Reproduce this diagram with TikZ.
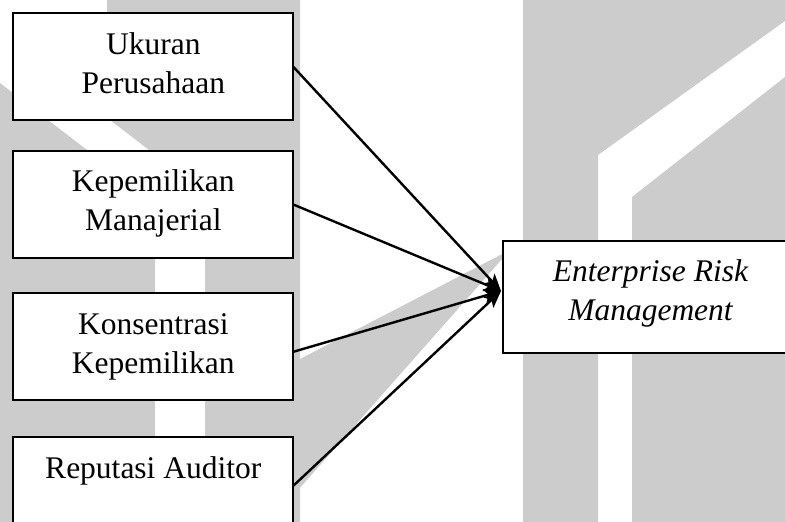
\documentclass[tikz,border=0pt]{standalone}
\usepackage{fontspec}
\setmainfont{Liberation Serif}
\usetikzlibrary{arrows.meta,calc}
\definecolor{wmgray}{RGB}{204,204,204}
\tikzset{
  box/.style={draw=black, line width=2.2pt, fill=white, minimum width=280pt,
    minimum height=107pt, inner sep=0pt, outer sep=0pt, anchor=north west},
  caption/.style={anchor=north, align=center, inner sep=0pt,
    font=\fontsize{31.5}{39}\selectfont},
  link/.style={line width=2.4pt, -{Stealth[length=17pt,width=14pt,inset=4pt]}},
  wm/.style={fill=wmgray, draw=none}
}
\begin{document}
\begin{tikzpicture}[x=1pt,y=-1pt]
\useasboundingbox (0,0) rectangle (785,522);
\clip (0,0) rectangle (785,522);

% background logo shapes
\fill[wm] (0,83) -- (155,202.4) -- (155,522) -- (0,522) -- cycle;
\fill[wm] (107,0) -- (300,0) -- (300,522) -- (205,522) -- (205,193) -- (107,117.7) -- cycle;
\fill[wm] (298,360) -- (510,250) -- (298,490) -- cycle;
\fill[wm] (523,0) -- (785,0) -- (785,21) -- (598,155) -- (598,522) -- (523,522) -- cycle;
\fill[wm] (632,197) -- (785,77) -- (785,522) -- (632,522) -- cycle;

% variable boxes
\node[box] (b1) at (13.3,13.3) {};
\node[box] (b2) at (13.3,151) {};
\node[box] (b3) at (13.3,293.3) {};
\node[box] (b4) at (13.3,437.3) {};
\node[box, minimum width=296pt, minimum height=112pt] (erm) at (502.7,240.7) {};

% labels
\node[caption] (t1) at ($(b1.north)+(0,17.5)$) {\rule{0pt}{23pt}Ukuran\\Perusahaan};
\node[caption] (t2) at ($(b2.north)+(0,17.5)$) {\rule{0pt}{23pt}Kepemilikan\\Manajerial};
\node[caption] (t3) at ($(b3.north)+(0,17.5)$) {\rule{0pt}{23pt}Konsentrasi\\Kepemilikan};
\node[caption] (t4) at ($(b4.north)+(0,17.5)$) {\rule{0pt}{23pt}Reputasi Auditor\\\mbox{}};
\node[caption, font=\fontsize{31.5}{39}\selectfont\itshape] (t5) at (650.5,258.2)
  {\rule{0pt}{23pt}Enterprise Risk\\Management};

% connectors
\coordinate (hub) at (501,291);
\draw[link] (b1.east) -- (hub);
\draw[link] (b2.east) -- (hub);
\draw[link] ($(b3.east)+(0,5)$) -- (hub);
\draw[link] ($(b4.east)+(0,-5)$) -- (hub);
\end{tikzpicture}
\end{document}
